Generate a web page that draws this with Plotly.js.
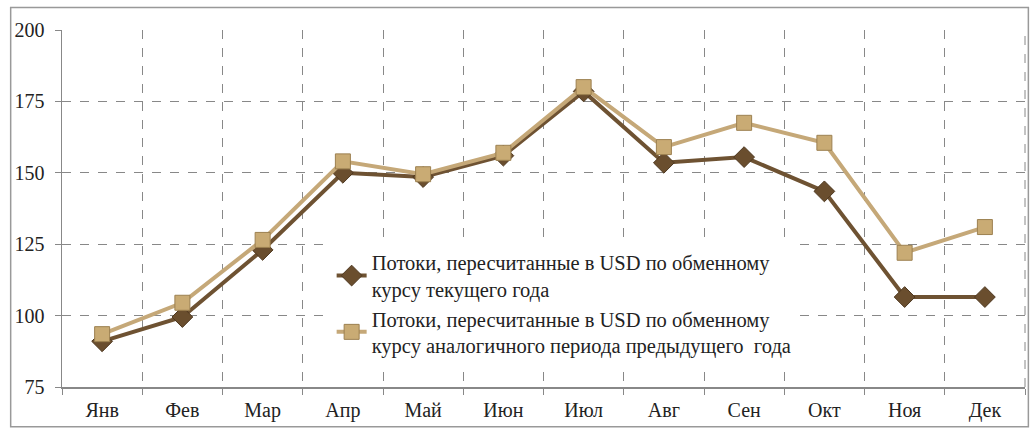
<!DOCTYPE html>
<html><head><meta charset="utf-8">
<script src="https://cdn.plot.ly/plotly-3.0.1.min.js"></script>
<style>html,body{margin:0;padding:0;background:#fff}#chart{width:1033px;height:434px}</style>
</head><body><div id="chart"></div>
<script>
const months = ["Янв","Фев","Мар","Апр","Май","Июн","Июл","Авг","Сен","Окт","Ноя","Дек"];
const currentRate = [91, 99.5, 123, 150, 148.5, 156, 178.5, 153.5, 155.5, 143.5, 106.5, 106.5];
const prevRate = [93.5, 104.5, 126.5, 154, 149.5, 157, 180, 159, 167.5, 160.5, 122, 131];
const yTicks = [75, 100, 125, 150, 175, 200];
const name1 = "Потоки, пересчитанные в USD по обменному<br>курсу текущего года";
const name2 = "Потоки, пересчитанные в USD по обменному<br>курсу аналогичного периода предыдущего  года";

const ff = "Liberation Serif, Times New Roman, serif";
const traces = [
  {x: months, y: currentRate, name: name1, type: "scatter", mode: "lines+markers",
   line: {color: "#6e5232", width: 4},
   marker: {symbol: "diamond", size: 16, color: "#6a4e2e", line: {color: "#4e3820", width: 1}}},
  {x: months, y: prevRate, name: name2, type: "scatter", mode: "lines+markers",
   line: {color: "#c5a878", width: 4},
   marker: {symbol: "square", size: 15, color: "#c9ab74", line: {color: "#9c8050", width: 1}}}
];
const layout = {
  width: 1033, height: 434,
  margin: {l: 62, r: 8, t: 30, b: 47},
  paper_bgcolor: "#fff", plot_bgcolor: "#fff",
  font: {family: ff, size: 20, color: "#222"},
  showlegend: true,
  legend: {x: 0.28, y: 0.405, xanchor: "left", yanchor: "top", bgcolor: "#fff",
           font: {family: ff, size: 20.5, color: "#222"}, tracegroupgap: 0},
  xaxis: {type: "category", tickson: "boundaries", showgrid: true,
          gridcolor: "#888", griddash: "dash", gridwidth: 1,
          showline: true, linecolor: "#888", linewidth: 1.5,
          ticks: "outside", ticklen: 6, tickcolor: "#888",
          ticklabelstandoff: 4,
          tickfont: {family: ff, size: 20, color: "#222"},
          range: [-0.5, 11.5], fixedrange: true},
  yaxis: {range: [75, 200], tickvals: yTicks, showgrid: true,
          gridcolor: "#888", griddash: "dash", gridwidth: 1,
          showline: true, linecolor: "#888", linewidth: 1.5,
          ticks: "outside", ticklen: 6, tickcolor: "#888",
          ticklabelstandoff: 6,
          tickfont: {family: ff, size: 20, color: "#222"},
          zeroline: false},
  shapes: [
    {type: "rect", xref: "paper", yref: "paper", x0: -0.0533, x1: 1.0035, y0: -0.1113, y1: 1.0627,
     line: {color: "#999", width: 1.5}, fillcolor: "rgba(0,0,0,0)", layer: "below"},
    {type: "line", xref: "paper", yref: "paper", x0: 1, x1: 1, y0: 0, y1: 1,
     line: {color: "#888", width: 1, dash: "dash"}}
  ]
};
Plotly.newPlot("chart", traces, layout, {staticPlot: true});
</script></body></html>
